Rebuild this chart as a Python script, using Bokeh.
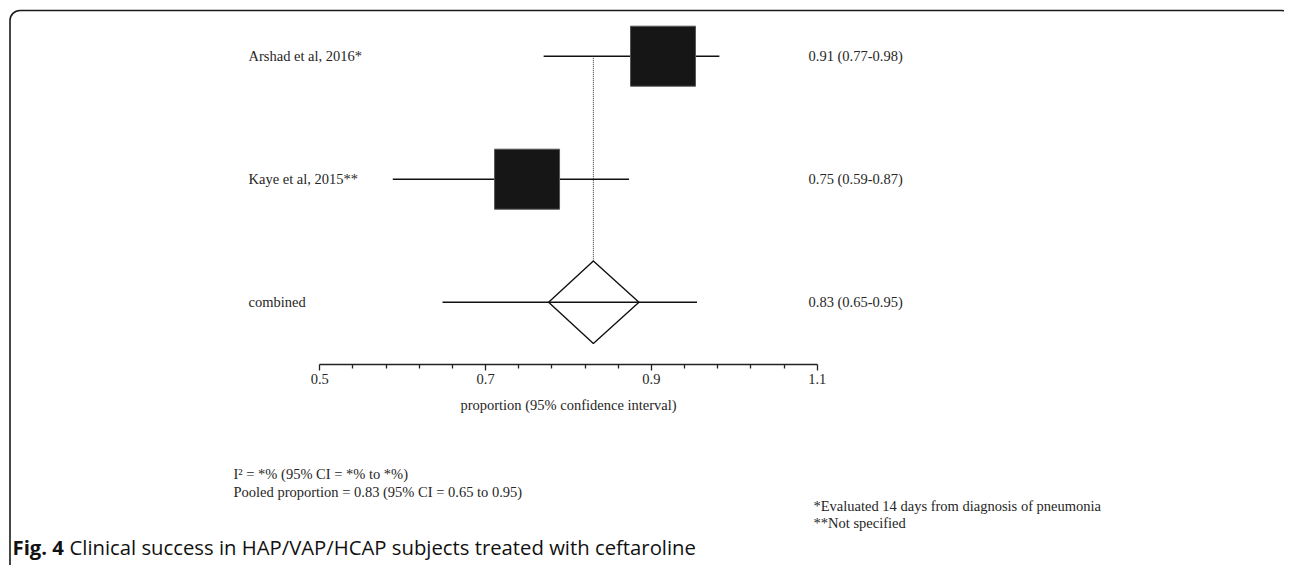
from bokeh.plotting import figure
from bokeh.models import Range1d, LinearAxis, FixedTicker, BoxAnnotation, ColumnDataSource
from bokeh.core.properties import value
from bokeh.embed import file_html
from bokeh.resources import INLINE

# ---------------- data ----------------
studies = ["Arshad et al, 2016*", "Kaye et al, 2015**"]
study_est = [0.914, 0.750]
study_lo = [0.770, 0.588]
study_hi = [0.982, 0.873]
study_text = ["0.91 (0.77-0.98)", "0.75 (0.59-0.87)"]

pooled_name = "combined"
pooled_est = 0.830
pooled_lo = 0.648
pooled_hi = 0.955
diamond_lo = 0.776
diamond_hi = 0.885
pooled_text = "0.83 (0.65-0.95)"

tick_values = [0.5, 0.7, 0.9, 1.1]
minor_tick_values = [0.54, 0.58, 0.62, 0.66, 0.74, 0.78, 0.82, 0.86,
                     0.94, 0.98, 1.02, 1.06]
axis_title = "proportion (95% confidence interval)"
het_text = "I\u00b2 = *% (95% CI = *% to *%)"
pooled_summary = "Pooled proportion = 0.83 (95% CI = 0.65 to 0.95)"
notes = ["*Evaluated 14 days from diagnosis of pneumonia", "**Not specified"]
caption_bold = "Fig. 4"
caption_rest = "Clinical success in HAP/VAP/HCAP subjects treated with ceftaroline"

# ---------------- layout ----------------
W, H = 1284, 565
PX_PER_UNIT = 829.0
X0_PX = 319.3            # pixel of x = 0.5
ROW_PX = 123.0
ROW0_PX = 55.7

x_start = 0.5 - X0_PX / PX_PER_UNIT
x_end = x_start + W / PX_PER_UNIT
y_top = ROW0_PX / ROW_PX
y_bot = -(H - ROW0_PX) / ROW_PX

def fx(px):  # pixel -> data x
    return x_start + px / PX_PER_UNIT

def fy(py):  # pixel (from top) -> data y
    return -(py - ROW0_PX) / ROW_PX

p = figure(width=W, height=H, output_backend="svg", toolbar_location=None,
           x_range=Range1d(x_start, x_end), y_range=Range1d(y_bot, y_top),
           x_axis_location=None, y_axis_location=None, min_border=0,
           background_fill_color="white", border_fill_color="white")
p.outline_line_color = None
p.xgrid.visible = False
p.ygrid.visible = False

SERIF = value("Liberation Serif")
TXT = "#262626"
FS = "14.5px"

# frame border with rounded corner
p.add_layout(BoxAnnotation(left=fx(9.5), right=fx(1291), top=fy(10.0), bottom=fy(H + 60),
                           fill_color=None, fill_alpha=0, line_color="#1a1a1a",
                           line_alpha=1.0, line_width=1.6, border_radius=10))

rows = [0.0, -1.0]
pooled_row = -2.0

# dotted reference line at pooled estimate
diamond_half = 0.335
p.segment(x0=[pooled_est], y0=[rows[0]], x1=[pooled_est], y1=[pooled_row + diamond_half],
          line_color="#333333", line_width=1, line_dash="1 1")

# CI lines
src = ColumnDataSource(dict(y=rows, est=study_est, lo=study_lo, hi=study_hi,
                            name=studies, txt=study_text))
p.segment(x0="lo", y0="y", x1="hi", y1="y", source=src, line_color="#111111", line_width=1.4)
p.segment(x0=[pooled_lo], y0=[pooled_row], x1=[pooled_hi], y1=[pooled_row],
          line_color="#111111", line_width=1.4)

# squares
p.rect(x="est", y="y", width=65, height=60, width_units="screen", height_units="screen",
       source=src, fill_color="#161616", line_color="#555555", line_width=1)

# diamond
p.patch(x=[diamond_lo, pooled_est, diamond_hi, pooled_est],
        y=[pooled_row, pooled_row + diamond_half, pooled_row, pooled_row - diamond_half],
        fill_color=None, line_color="#111111", line_width=1.4)

# left and right labels
p.text(x=fx(248), y="y", text="name", source=src, text_font=SERIF, text_font_size=FS,
       text_color=TXT, text_baseline="middle", text_align="left")
p.text(x=fx(808), y="y", text="txt", source=src, text_font=SERIF, text_font_size=FS,
       text_color=TXT, text_baseline="middle", text_align="left")
p.text(x=[fx(248)], y=[pooled_row], text=[pooled_name], text_font=SERIF, text_font_size=FS,
       text_color=TXT, text_baseline="middle", text_align="left")
p.text(x=[fx(808)], y=[pooled_row], text=[pooled_text], text_font=SERIF, text_font_size=FS,
       text_color=TXT, text_baseline="middle", text_align="left")

# x axis inside the frame
ax = LinearAxis(fixed_location=fy(364.3), bounds=(0.5, 1.1),
                ticker=FixedTicker(ticks=tick_values, minor_ticks=minor_tick_values),
                axis_label=axis_title)
ax.axis_line_color = "#222222"
ax.axis_line_width = 1.3
ax.major_tick_line_color = "#222222"
ax.major_tick_line_width = 1.3
ax.major_tick_out = 6
ax.major_tick_in = 0
ax.minor_tick_line_color = "#222222"
ax.minor_tick_line_width = 1.3
ax.minor_tick_out = 4
ax.minor_tick_in = 0
ax.major_label_text_font = "Liberation Serif"
ax.major_label_text_font_size = FS
ax.major_label_text_color = TXT
ax.major_label_standoff = 3
ax.axis_label_text_font = "Liberation Serif"
ax.axis_label_text_font_size = FS
ax.axis_label_text_font_style = "normal"
ax.axis_label_text_color = TXT
ax.axis_label_standoff = 10
p.add_layout(ax, "below")

# footer texts
p.text(x=[fx(233), fx(233)], y=[fy(473), fy(491)], text=[het_text, pooled_summary],
       text_font=SERIF, text_font_size=FS, text_color=TXT, text_baseline="middle")
p.text(x=[fx(813), fx(813)], y=[fy(505), fy(522)], text=notes,
       text_font=SERIF, text_font_size=FS, text_color=TXT, text_baseline="middle")

# caption
p.text(x=[fx(12)], y=[fy(546)], text=[caption_bold], text_font=value("Open Sans"),
       text_font_size="20.3px", text_font_style="bold", text_color="#111111",
       text_baseline="middle")
p.text(x=[fx(69)], y=[fy(546)], text=[caption_rest], text_font=value("Open Sans"),
       text_font_size="20.3px", text_color="#111111", text_baseline="middle")

open("out.html", "w").write(file_html(p, INLINE))
